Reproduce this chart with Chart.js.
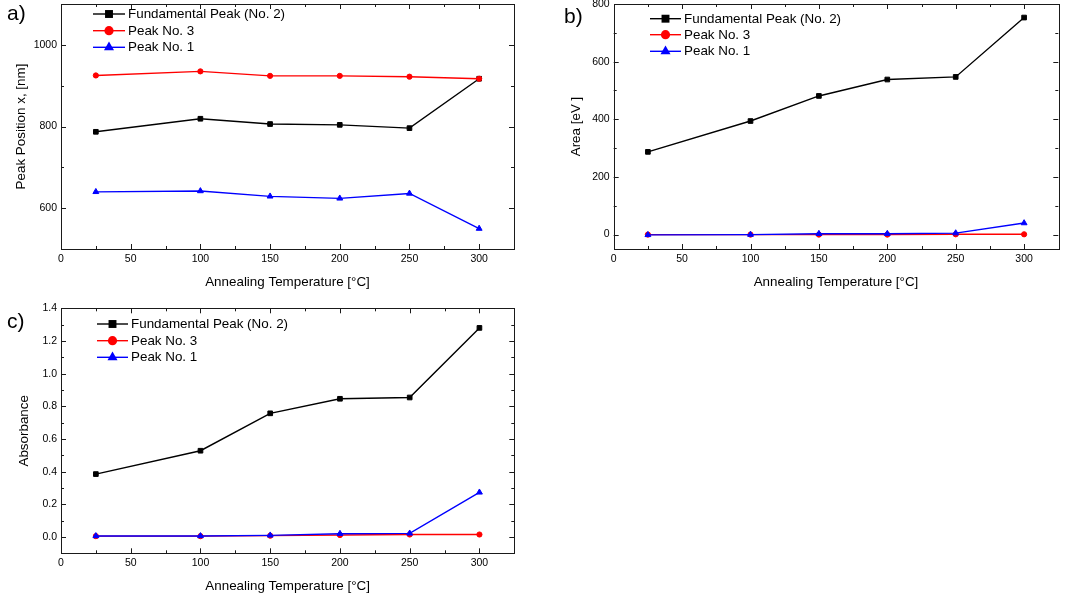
<!DOCTYPE html>
<html>
<head>
<meta charset="utf-8">
<script src="https://cdn.jsdelivr.net/npm/chart.js@4/dist/chart.umd.min.js"></script>
<style>
  html, body { margin: 0; padding: 0; background: #fff; width: 1073px; height: 601px; overflow: hidden; position: relative; font-family: "Liberation Sans", Arial, sans-serif; }
  canvas { position: absolute; }
  .tag { position: absolute; font-size: 21px; line-height: 21px; color: #000; white-space: nowrap; }
</style>
</head>
<body>
<canvas id="chartA" width="530" height="310" style="left:0;top:-10px"></canvas>
<canvas id="chartB" width="533" height="310" style="left:540px;top:-10px"></canvas>
<canvas id="chartC" width="530" height="311" style="left:0;top:290px"></canvas>
<div class="tag" style="left:7px;top:2px">a)</div>
<div class="tag" style="left:564px;top:5px">b)</div>
<div class="tag" style="left:7px;top:310px">c)</div>
<script>
// Annealing temperatures (°C)
const temperatures = [25, 100, 150, 200, 250, 300];

// Series names
const seriesNames = ['Fundamental Peak (No. 2)', 'Peak No. 3', 'Peak No. 1'];

// a) peak position x, [nm]
const positionPeak2 = [787, 819, 806, 804, 796, 917];
const positionPeak3 = [925, 935, 924, 924, 922, 917];
const positionPeak1 = [640, 642, 629, 624, 636, 550];

// b) area [eV]
const areaPeak2 = [287, 394, 481, 538, 547, 753];
const areaPeak3 = [0, 0, 0, 0, 1, 1];
const areaPeak1 = [-1, 0, 3, 3, 5, 40];

// c) absorbance
const absPeak2 = [0.385, 0.528, 0.757, 0.846, 0.854, 1.28];
const absPeak3 = [0.005, 0.005, 0.008, 0.012, 0.015, 0.015];
const absPeak1 = [0.006, 0.006, 0.010, 0.020, 0.022, 0.273];

// Tick labels
const xTicks = [0, 50, 100, 150, 200, 250, 300];
const yTicksA = [600, 800, 1000];
const yTicksB = [0, 200, 400, 600, 800];
const yTicksC = [0.0, 0.2, 0.4, 0.6, 0.8, 1.0, 1.2, 1.4];

const FONT = '"Liberation Sans", Arial, sans-serif';
Chart.defaults.color = '#000';
Chart.defaults.font.family = FONT;

const styles = [
  { color: '#000000', point: 'rect',     radius: 3.3, order: 2, legendR: 5.6 },
  { color: '#ff0000', point: 'circle',   radius: 2.6, order: 1, legendR: 4.6 },
  { color: '#0000ff', point: 'triangle', radius: 3.4, order: 0, legendR: 5.8 }
];

function makeDatasets(series) {
  return series.map((vals, i) => ({
    label: seriesNames[i],
    data: temperatures.map((t, k) => ({ x: t, y: vals[k] })),
    borderColor: styles[i].color,
    backgroundColor: styles[i].color,
    pointBackgroundColor: styles[i].color,
    pointBorderColor: styles[i].color,
    pointBorderWidth: 1,
    pointStyle: styles[i].point,
    pointRadius: styles[i].radius,
    borderWidth: 1.4,
    tension: 0,
    order: styles[i].order
  }));
}

function drawMarker(ctx, style, x, y, r) {
  ctx.beginPath();
  if (style === 'rect') {
    const s = r * Math.SQRT1_2;
    ctx.rect(x - s, y - s, 2 * s, 2 * s);
  } else if (style === 'circle') {
    ctx.arc(x, y, r, 0, Math.PI * 2);
  } else {
    const w = r * Math.sqrt(3) / 2;
    ctx.moveTo(x, y - r);
    ctx.lineTo(x + w, y + r / 2);
    ctx.lineTo(x - w, y + r / 2);
    ctx.closePath();
  }
  ctx.fill();
}

// Box frame with inward major and minor ticks on all four sides
const framePlugin = {
  id: 'frame',
  beforeDatasetsDraw(chart) {
    const { ctx, chartArea: a, scales } = chart;
    ctx.save();
    ctx.strokeStyle = '#1a1a1a';
    ctx.lineWidth = 1;
    ctx.strokeRect(Math.round(a.left) + 0.5, Math.round(a.top) + 0.5,
                   Math.round(a.right - a.left), Math.round(a.bottom - a.top));
    const both = (scale) => {
      const major = scale.ticks.map(t => t.value);
      const step = major[1] - major[0];
      const minor = [];
      for (let v = major[0] - step / 2; v >= scale.min - 1e-9; v -= step) minor.push(v);
      for (let v = major[0] + step / 2; v <= scale.max + 1e-9; v += step) minor.push(v);
      for (let v = major[0] - step; v >= scale.min - 1e-9; v -= step) major.unshift(v);
      for (let v = major[major.length - 1] + step; v <= scale.max + 1e-9; v += step) major.push(v);
      return { major, minor };
    };
    const xs = scales.x, ys = scales.y;
    const X = both(xs), Y = both(ys);
    ctx.beginPath();
    const tick = (vals, len, horiz) => {
      vals.forEach(v => {
        if (horiz) {
          const px = Math.round(xs.getPixelForValue(v)) + 0.5;
          if (px < a.left + 1 || px > a.right - 1) return;
          ctx.moveTo(px, a.bottom); ctx.lineTo(px, a.bottom - len);
          ctx.moveTo(px, a.top); ctx.lineTo(px, a.top + len);
        } else {
          const py = Math.round(ys.getPixelForValue(v)) + 0.5;
          if (py < a.top + 1 || py > a.bottom - 1) return;
          ctx.moveTo(a.left, py); ctx.lineTo(a.left + len, py);
          ctx.moveTo(a.right, py); ctx.lineTo(a.right - len, py);
        }
      });
    };
    tick(X.major, 5, true); tick(X.minor, 3, true);
    tick(Y.major, 5, false); tick(Y.minor, 3, false);
    ctx.stroke();
    ctx.restore();
  }
};

// Legend drawn from the chart's own datasets
const legendPlugin = {
  id: 'boxLegend',
  afterDraw(chart, args, opts) {
    const ctx = chart.ctx;
    ctx.save();
    ctx.font = '13.4px ' + FONT;
    ctx.textBaseline = 'middle';
    ctx.textAlign = 'left';
    chart.data.datasets.forEach((ds, i) => {
      const y = opts.rows[i];
      ctx.strokeStyle = ds.borderColor;
      ctx.fillStyle = ds.borderColor;
      ctx.lineWidth = 1.4;
      ctx.beginPath();
      ctx.moveTo(opts.x0, y); ctx.lineTo(opts.x1, y);
      ctx.stroke();
      drawMarker(ctx, ds.pointStyle, (opts.x0 + opts.x1) / 2, y, styles[i].legendR);
      ctx.fillStyle = '#000';
      ctx.fillText(ds.label, opts.x1 + 3, y + 0.5);
    });
    ctx.restore();
  }
};

function makeChart(id, series, yTicks, yMin, yMax, yTitle, geo, legend, decimals) {
  return new Chart(document.getElementById(id), {
    type: 'line',
    data: { datasets: makeDatasets(series) },
    plugins: [framePlugin, legendPlugin],
    options: {
      responsive: false,
      animation: false,
      devicePixelRatio: 1,
      layout: { autoPadding: false, padding: geo.padding },
      plugins: {
        legend: { display: false },
        tooltip: { enabled: false },
        boxLegend: legend
      },
      scales: {
        x: {
          type: 'linear', min: 0, max: 325,
          grid: { display: false, drawTicks: false },
          border: { display: false },
          afterBuildTicks: s => { s.ticks = xTicks.map(v => ({ value: v })); },
          afterFit: s => { s.height = geo.xHeight; },
          ticks: { font: { size: 10.5 }, padding: 4, maxRotation: 0, callback: v => String(v) },
          title: { display: true, text: 'Annealing Temperature [°C]', font: { size: 13.4, lineHeight: 1.2 }, padding: 0 }
        },
        y: {
          type: 'linear', min: yMin, max: yMax,
          grid: { display: false, drawTicks: false },
          border: { display: false },
          afterBuildTicks: s => { s.ticks = yTicks.map(v => ({ value: v })); },
          afterFit: s => { s.width = geo.yWidth; },
          ticks: { font: { size: 10.5 }, padding: 4, callback: v => decimals ? Number(v).toFixed(decimals) : String(v) },
          title: { display: true, text: yTitle, font: { size: 13.4, lineHeight: 1.2 }, padding: 0 }
        }
      }
    }
  });
}

makeChart('chartA', [positionPeak2, positionPeak3, positionPeak1], yTicksA, 500, 1100,
  'Peak Position x, [nm]',
  { padding: { left: 13.3, top: 14, right: 16, bottom: 9.7 }, yWidth: 47.7, xHeight: 41.3 },
  { x0: 93, x1: 125, rows: [24, 40.7, 57.3] }, 0);

makeChart('chartB', [areaPeak2, areaPeak3, areaPeak1], yTicksB, -50, 800,
  'Area [eV ]',
  { padding: { left: 28.3, top: 14, right: 14.7, bottom: 9.7 }, yWidth: 45.4, xHeight: 41.3 },
  { x0: 110, x1: 141, rows: [28.7, 44.7, 61.3] }, 0);

makeChart('chartC', [absPeak2, absPeak3, absPeak1], yTicksC, -0.1, 1.4,
  'Absorbance',
  { padding: { left: 16.3, top: 18.3, right: 15.7, bottom: 6.7 }, yWidth: 44.7, xHeight: 41 },
  { x0: 97, x1: 128, rows: [34, 50.7, 67.3] }, 1);
</script>
</body>
</html>
